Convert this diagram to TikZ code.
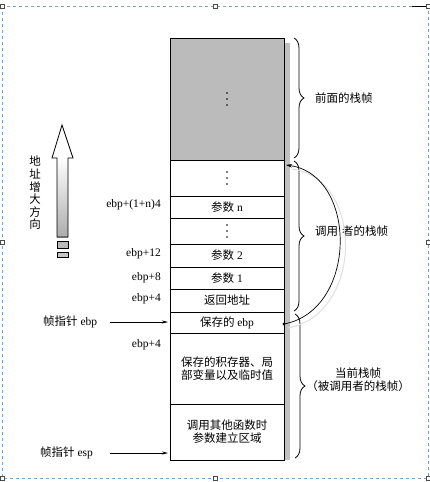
\documentclass[tikz,border=0pt]{standalone}
\usepackage{fontspec}
\setmainfont{Liberation Serif}
\newfontfamily\cjk{Noto Sans CJK SC}
\usetikzlibrary{arrows.meta,decorations.pathreplacing}
\definecolor{stackgray}{RGB}{187,187,187}
\definecolor{shadowgray}{RGB}{192,192,192}
\definecolor{framecol}{RGB}{120,160,200}
\begin{document}
\begin{tikzpicture}[x=1pt,y=-1pt,
  every node/.style={font=\fontsize{11.5}{13}\selectfont},
  cell/.style={draw,line width=0.9pt,minimum width=114pt,inner sep=0pt,align=center},
  lbl/.style={anchor=east,inner sep=0pt},
  ptr/.style={-{Stealth[length=6pt,width=3pt]},line width=0.6pt},
  brc/.style={decorate,decoration={brace,amplitude=10pt},line width=0.8pt},
  handle/.style={draw=black!70,fill=white,line width=0.4pt,minimum size=4pt,inner sep=0pt}
]
\useasboundingbox (0,0) rectangle (430,482);
\fill[white] (0,0) rectangle (430,482);
% selection frame
\draw[framecol,dashed,line width=0.5pt] (2,6) rectangle (428,478);
\draw[black,line width=0.8pt] (412,6) -- (428,6);
\foreach \p/\n in {{(2,6)}/h1,{(215,6)}/h2,{(428,6)}/h3,{(2,242)}/h4,{(428,242)}/h5,{(2,478)}/h6,{(215,478)}/h7,{(428,478)}/h8}
  \node[handle] (\n) at \p {};
% shadow strip
\fill[shadowgray] (284,43) rectangle (290,460);
% stack cells
\node[cell,fill=stackgray,minimum height=122pt] (g) at (227,99) {};
\node[cell,minimum height=36pt] (r1) at (227,178) {};
\node[cell,minimum height=22pt] (r2) at (227,207) {{\cjk 参数} n};
\node[cell,minimum height=26pt] (r3) at (227,231) {};
\node[cell,minimum height=23pt] (r4) at (227,255.5) {{\cjk 参数} 2};
\node[cell,minimum height=22pt] (r5) at (227,278) {{\cjk 参数} 1};
\node[cell,minimum height=23pt] (r6) at (227,300.5) {\cjk 返回地址};
\node[cell,minimum height=21pt] (r7) at (227,322.5) {{\cjk 保存的} ebp};
\node[cell,minimum height=71pt] (r8) at (227,368.5) {\cjk 保存的积存器、局\\\cjk 部变量以及临时值};
\node[cell,minimum height=56pt] (r9) at (227,432) {\cjk 调用其他函数时\\\cjk 参数建立区域};
% vertical ellipses
\foreach \c in {g,r1,r3}
  \foreach \d in {-6,0,6}
    \fill ([yshift=-\d pt]\c.center) circle (0.9pt);
% left labels
\node[lbl] (l1) at (161,205) {ebp+(1+n)4};
\node[lbl] (l2) at (161,254) {ebp+12};
\node[lbl] (l3) at (161,278) {ebp+8};
\node[lbl] (l4) at (161,299) {ebp+4};
\node[lbl] (l5) at (161,345) {ebp+4};
\node[anchor=west,inner sep=0pt] (fp) at (43,322) {{\cjk 帧指针} ebp};
\node[anchor=west,inner sep=0pt] (sp) at (40,453) {{\cjk 帧指针} esp};
\coordinate (fpe) at (168,322);
\coordinate (spe) at (168,453);
\draw[ptr] (fp.east -| 110,0) -- (fpe);
\draw[ptr] (sp.east -| 110,0) -- (spe);
% braces
\coordinate (b1a) at (294,38);  \coordinate (b1b) at (294,158);
\coordinate (b2a) at (294,161); \coordinate (b2b) at (294,311);
\coordinate (b3a) at (295,314); \coordinate (b3b) at (295,458);
\draw[brc] (b1a) -- (b1b);
\draw[brc] (b2a) -- (b2b);
\draw[brc] (b3a) -- (b3b);
\node[anchor=west,inner sep=0pt] (t1) at (315,98) {\cjk 前面的栈帧};
\node[anchor=west,inner sep=0pt] (t2) at (315,231) {\cjk 调用\hspace{4pt}者的栈帧};
\node[align=center,inner sep=0pt] (t3) at (358,380) {\cjk 当前栈帧\\\cjk （被调用者的栈帧）};
% curved arrow
\coordinate (cs) at (284,324);
\coordinate (ce) at (286,165);
\draw[gray!25,line width=1pt] (288,328) .. controls (364,314) and (364,178) .. (292,169);
\draw[-{Stealth[length=6pt,width=3.5pt]},line width=0.7pt] (cs) .. controls (358,310) and (358,175) .. (ce);
\fill (cs) circle (1.6pt);
% address growth arrow
\shade[top color=white,bottom color=gray!65] (57,158) rectangle (68,237);
\draw[line width=0.8pt] (62,125) -- (73,158) -- (68,158) -- (68,237) -- (57,237) -- (57,158) -- (52,158) -- cycle;
\draw[line width=0.8pt,fill=gray!55] (57,241) rectangle (68,248);
\draw[line width=0.8pt,fill=gray!45] (57,252) rectangle (68,257);
\node[align=center,inner sep=0pt,font=\fontsize{11.5}{12.6}\selectfont] (vt) at (35,193) {\cjk 地\\\cjk 址\\\cjk 增\\\cjk 大\\\cjk 方\\\cjk 向};
\end{tikzpicture}
\end{document}
